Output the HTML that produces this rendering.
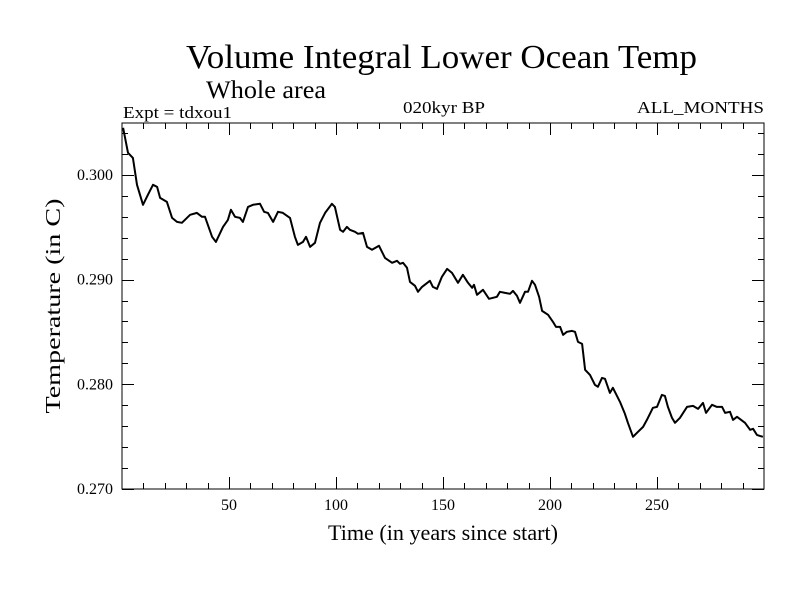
<!DOCTYPE html>
<html><head><meta charset="utf-8"><style>
body{margin:0;background:#fff;}
svg text{font-family:"Liberation Serif",serif;fill:#000;}
</style></head><body>
<svg id="chart" width="800" height="600" xmlns="http://www.w3.org/2000/svg">
<rect width="800" height="600" fill="#fff"/>
<text x="186" y="68" font-size="34" textLength="511" lengthAdjust="spacingAndGlyphs">Volume Integral Lower Ocean Temp</text>
<text x="206" y="98" font-size="25" textLength="120" lengthAdjust="spacingAndGlyphs">Whole area</text>
<text x="123" y="118" font-size="17" textLength="109" lengthAdjust="spacingAndGlyphs">Expt = tdxou1</text>
<text x="403" y="113" font-size="17" textLength="82" lengthAdjust="spacingAndGlyphs">020kyr BP</text>
<text x="637" y="113" font-size="17" textLength="127" lengthAdjust="spacingAndGlyphs">ALL_MONTHS</text>
<text transform="translate(60,306) rotate(-90)" font-size="21" text-anchor="middle" textLength="215" lengthAdjust="spacingAndGlyphs">Temperature (in C)</text>
<text x="328" y="540" font-size="22" textLength="230" lengthAdjust="spacingAndGlyphs">Time (in years since start)</text>
<g id="ticks"></g>
<g id="plot"></g>
<rect x="122" y="123" width="642" height="366" fill="none" stroke="#000" stroke-width="1"/>
</svg>
<script>
const years=[0.5,2.8,5.1,7.0,8.4,9.8,12.1,14.5,16.4,17.8,21.0,23.4,25.7,28.0,31.8,35.0,37.4,38.8,42.1,43.9,47.2,49.5,50.9,52.8,55.1,56.5,58.9,61.2,64.5,66.4,68.2,70.6,72.9,75.2,78.5,80.8,82.2,84.6,86.0,87.9,90.2,92.5,94.9,98.1,99.5,101.9,103.3,105.1,106.5,108.9,110.3,112.6,114.5,116.8,120.1,122.9,126.2,128.5,129.9,131.3,133.2,134.6,136.9,138.3,140.2,143.9,145.3,147.2,149.5,151.9,154.2,157.0,159.3,161.7,163.6,164.5,165.9,168.7,171.5,175.2,176.6,179.0,181.3,182.7,184.6,186.0,188.3,189.7,191.6,193.0,194.9,196.3,199.1,201.4,202.8,204.7,206.1,207.9,210.3,211.7,213.1,215.0,216.4,218.7,221.0,222.4,224.3,225.7,228.0,229.4,232.7,235.0,236.4,238.8,241.1,243.5,245.3,248.1,250.0,252.3,253.7,255.1,257.0,258.4,260.7,264.0,266.8,269.2,271.5,272.9,275.7,278.0,280.4,281.8,284.1,285.5,287.4,291.1,293.5,294.9,296.7,298.1,299.5];
const temps=[0.30449,0.30210,0.30162,0.29905,0.29809,0.29714,0.29809,0.29905,0.29885,0.29780,0.29742,0.29589,0.29551,0.29542,0.29618,0.29637,0.29599,0.29599,0.29408,0.29360,0.29503,0.29570,0.29666,0.29599,0.29589,0.29551,0.29694,0.29714,0.29723,0.29647,0.29637,0.29551,0.29647,0.29637,0.29589,0.29408,0.29331,0.29360,0.29408,0.29312,0.29351,0.29542,0.29637,0.29723,0.29694,0.29475,0.29456,0.29503,0.29475,0.29456,0.29437,0.29446,0.29312,0.29284,0.29322,0.29207,0.29160,0.29179,0.29150,0.29160,0.29112,0.28978,0.28940,0.28883,0.28930,0.28988,0.28930,0.28911,0.29026,0.29102,0.29064,0.28969,0.29045,0.28969,0.28921,0.28950,0.28854,0.28902,0.28816,0.28835,0.28883,0.28873,0.28864,0.28892,0.28844,0.28778,0.28883,0.28883,0.28988,0.28950,0.28835,0.28701,0.28663,0.28596,0.28548,0.28548,0.28472,0.28501,0.28510,0.28501,0.28405,0.28386,0.28138,0.28090,0.27995,0.27976,0.28061,0.28052,0.27918,0.27966,0.27832,0.27718,0.27632,0.27498,0.27546,0.27593,0.27660,0.27775,0.27784,0.27899,0.27889,0.27784,0.27679,0.27632,0.27679,0.27784,0.27794,0.27765,0.27822,0.27727,0.27804,0.27784,0.27784,0.27727,0.27737,0.27660,0.27689,0.27632,0.27565,0.27575,0.27517,0.27507,0.27498];
const xTickLabels=[50,100,150,200,250];
const yTickLabels=["0.270","0.280","0.290","0.300"];
const X0=122,X1=764,Y0=489,Y1=123;
const xMin=0,xMax=300,yMin=0.270,yMax=0.30495;
function sx(v){return X0+(v-xMin)/(xMax-xMin)*(X1-X0);}
function sy(v){return Y0-(v-yMin)/(yMax-yMin)*(Y0-Y1);}
const NS="http://www.w3.org/2000/svg";
const tg=document.getElementById('ticks');
function line(x1,y1,x2,y2,name){const l=document.createElementNS(NS,'line');l.setAttribute('x1',x1);l.setAttribute('y1',y1);l.setAttribute('x2',x2);l.setAttribute('y2',y2);l.setAttribute('stroke','#000');


tg.appendChild(l);}
function text(x,y,s,anchor,name){const t=document.createElementNS(NS,'text');t.setAttribute('x',x);t.setAttribute('y',y);t.setAttribute('font-size','16');t.setAttribute('text-anchor',anchor);t.textContent=s;


tg.appendChild(t);}
for(let v=10;v<300;v+=10){const x=Math.round(sx(v))+0.5;const L=(v%50===0)?12:6;
line(x,Y0,x,Y0-L,'x-tick');line(x,Y1,x,Y1+L,'x-tick');}
xTickLabels.forEach(v=>text(sx(v),510,String(v),'middle','x-tick-label'));
for(let i=0;i<=17;i++){const v=0.270+i*0.002;if(v>yMax)break;const y=Math.round(sy(v))+0.5;const L=(i%5===0)?12:6;
line(X0,y,X0+L,y,'y-tick');line(X1,y,X1-L,y,'y-tick');}
yTickLabels.forEach(s=>text(113,sy(parseFloat(s))+5,s,'end','y-tick-label'));
const p=document.createElementNS(NS,'polyline');
p.setAttribute('points',years.map((y,i)=>sx(y).toFixed(1)+','+sy(temps[i]).toFixed(1)).join(' '));
p.setAttribute('fill','none');p.setAttribute('stroke','#000');p.setAttribute('stroke-width','2');p.setAttribute('stroke-linejoin','round');


document.getElementById('plot').appendChild(p);
</script>
</body></html>
